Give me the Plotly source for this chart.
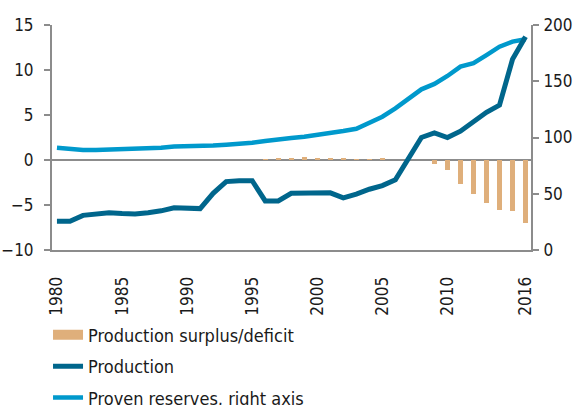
import plotly.graph_objects as go

years = list(range(1980, 2017))

production = [-6.8, -6.8, -6.15, -5.95, -5.85, -5.95, -6.0, -5.85, -5.65, -5.3, -5.4, -5.4,
              -3.7, -2.4, -2.3, -2.3, -4.55, -4.55, -3.7, -3.65, -3.65, -3.65,
              -4.2, -3.8, -3.25, -2.85, -2.2, 0.1, 2.5, 3.0, 2.5, 3.2, 4.2, 5.3, 6.1, 11.2, 13.7]

reserves = [90.9, 89.5, 88.9, 88.9, 89.2, 89.8, 90.4, 90.7, 90.9, 91.9, 91.9, 92.4,
            92.8, 93.6, 94.2, 95.4, 96.9, 98.7, 99.6, 100.7, 102.2, 104.3,
            105.8, 107.8, 113.0, 118.5, 125.9, 133.9, 142.8, 147.6, 154.7, 163.0, 166.0,
            173.3, 180.7, 185.2, 187.3]

surplus = [0, 0, 0, 0, 0, 0, 0, 0, 0, 0, 0, 0, 0, 0, 0, 0,
           0.1, 0.25, 0.25, 0.3, 0.2, 0.25, 0.25, 0.05, 0.1, 0.15, 0, 0, 0,
           -0.4, -1.15, -2.7, -3.75, -4.8, -5.5, -5.65, -6.95]

tick_years = [1980, 1985, 1990, 1995, 2000, 2005, 2010, 2016]
tick_labels = [str(y) for y in tick_years]
left_ticks = [-10, -5, 0, 5, 10, 15]
right_ticks = [0, 50, 100, 150, 200]

C_BAR = "#DFAF7B"
C_PROD = "#00668C"
C_RES = "#0099CC"
AX = "#8C8C8C"
FONT = "Liberation Sans Narrow, Arial Narrow, DejaVu Sans Condensed, sans-serif"

fig = go.Figure()
fig.add_trace(go.Bar(x=years, y=surplus, marker=dict(color=C_BAR, line=dict(width=0)),
                     width=0.36, showlegend=False, yaxis="y"))
fig.add_trace(go.Scatter(x=[None], y=[None], mode="lines", name="Production surplus/deficit",
                         line=dict(color=C_BAR, width=12), legendrank=1, legendgroup="a"))
fig.add_trace(go.Scatter(x=years, y=reserves, mode="lines", name="Proven reserves, right axis",
                         line=dict(color=C_RES, width=4.5), yaxis="y2", legendrank=3,
                         legendgroup="c"))
fig.add_trace(go.Scatter(x=years, y=production, mode="lines", name="Production",
                         line=dict(color=C_PROD, width=5), yaxis="y3", legendrank=2,
                         legendgroup="b"))

fig.update_layout(
    width=573, height=405,
    margin=dict(l=52, r=41.5, t=25, b=155, autoexpand=False),
    paper_bgcolor="white", plot_bgcolor="white",
    font=dict(family=FONT, size=17, color="#1a1a1a"),
    bargap=0,
    xaxis=dict(range=[1979.62, 2016.42], tickvals=tick_years, ticktext=tick_labels,
               tickangle=-90, ticks="", showline=True, linecolor=AX, linewidth=2,
               showgrid=False, zeroline=False, ticklabelstandoff=18, automargin=False),
    yaxis=dict(range=[-10, 15], tickvals=left_ticks, ticks="outside",
               ticklen=6, tickwidth=2, tickcolor=AX, showline=True, linecolor=AX,
               linewidth=2, showgrid=False, zeroline=True, zerolinecolor=AX,
               zerolinewidth=2, ticklabelstandoff=7, automargin=False),
    yaxis2=dict(range=[0, 200], tickvals=right_ticks, overlaying="y",
                side="right", ticks="outside", ticklen=6, tickwidth=2, tickcolor=AX,
                showline=True, linecolor=AX, linewidth=2, showgrid=False, zeroline=False,
                ticklabelstandoff=1, automargin=False),
    yaxis3=dict(range=[-10, 15], overlaying="y", visible=False, showgrid=False,
                zeroline=False, automargin=False),
    legend=dict(orientation="v", x=-0.0083, xanchor="left", y=-0.296, yanchor="top",
                font=dict(size=18), tracegroupgap=5, bgcolor="rgba(0,0,0,0)"),
)

post = (
    "document.body.style.margin='0';"
    "document.documentElement.style.overflow='hidden';"
    "var gd=document.getElementById('{plot_id}');"
    "Plotly.relayout(gd, {'margin.l': 52.0001});"
)

fig.write_html("out.html", config={"displayModeBar": False}, post_script=post)
